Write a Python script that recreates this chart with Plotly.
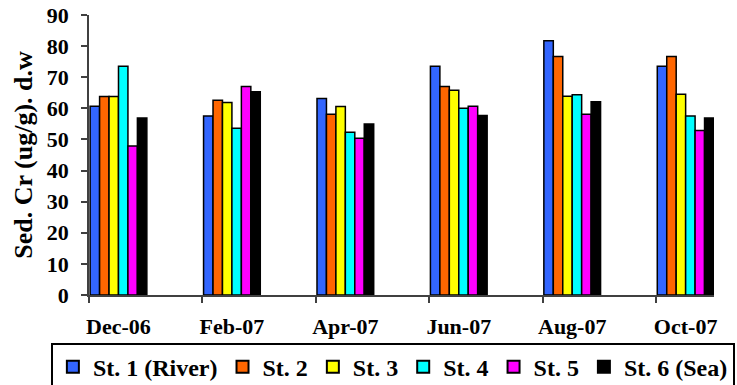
import plotly.graph_objects as go

# Sampling months
months = ["Dec-06", "Feb-07", "Apr-07", "Jun-07", "Aug-07", "Oct-07"]

# Sediment chromium (ug/g dry weight) per station
st1 = [60.7, 57.5, 63.2, 73.5, 81.7, 73.5]
st2 = [63.8, 62.6, 58.1, 67.0, 76.7, 76.7]
st3 = [63.8, 61.9, 60.6, 65.8, 63.9, 64.5]
st4 = [73.5, 53.6, 52.3, 60.0, 64.4, 57.5]
st5 = [47.9, 67.0, 50.4, 60.7, 58.1, 52.9]
st6 = [56.9, 65.3, 55.0, 57.7, 62.1, 56.9]

station_names = ["St. 1 (River)", "St. 2", "St. 3", "St. 4", "St. 5", "St. 6 (Sea)"]
station_values = [st1, st2, st3, st4, st5, st6]
station_colors = ["#3366FF", "#FF6600", "#FFFF00", "#00FFFF", "#FF00FF", "#000000"]

y_ticks = list(range(0, 91, 10))

FONT = "Liberation Serif"
xpos = list(range(len(months)))

fig = go.Figure()
for name, vals, col in zip(station_names, station_values, station_colors):
    fig.add_trace(go.Bar(
        x=xpos, y=vals, name=name,
        marker=dict(color=col, line=dict(color="black", width=1.5)),
    ))

fig.update_layout(
    width=737, height=385,
    margin=dict(l=89, r=23, t=15, b=90, autoexpand=False),
    paper_bgcolor="white", plot_bgcolor="white",
    barmode="group", bargap=0.5, bargroupgap=0,
    font=dict(family=FONT, size=22, color="black", weight="bold"),
    showlegend=True,
    legend=dict(
        orientation="h", x=-0.061, xanchor="left", y=-0.17, yanchor="top",
        bordercolor="black", borderwidth=2, bgcolor="white",
        font=dict(family=FONT, size=24, color="black", weight="bold"),
        itemsizing="constant", tracegroupgap=0,
    ),
    xaxis=dict(
        range=[-0.26, 5.25], tickmode="array", tickvals=xpos, ticktext=months,
        ticks="", showline=True, linecolor="#404040", linewidth=1.5,
        showgrid=False, zeroline=False, ticklabelstandoff=11,
        tickfont=dict(family=FONT, size=22, weight="bold"),
        minor=dict(tickvals=[i - 0.26 for i in xpos], ticks="outside",
                   ticklen=6, tickwidth=1.5, tickcolor="#404040", showgrid=False),
    ),
    yaxis=dict(
        range=[0, 90], tickmode="array", tickvals=y_ticks,
        ticks="outside", ticklen=6, tickwidth=1.5, tickcolor="#404040",
        showline=True, linecolor="#404040", linewidth=1.5,
        showgrid=False, zeroline=False, ticklabelstandoff=8,
        tickfont=dict(family=FONT, size=22, weight="bold"),
        title=dict(text="Sed. Cr (ug/g). d.w", standoff=7,
                   font=dict(family=FONT, size=26, weight="bold")),
    ),
)

fig.write_html("out.html")
